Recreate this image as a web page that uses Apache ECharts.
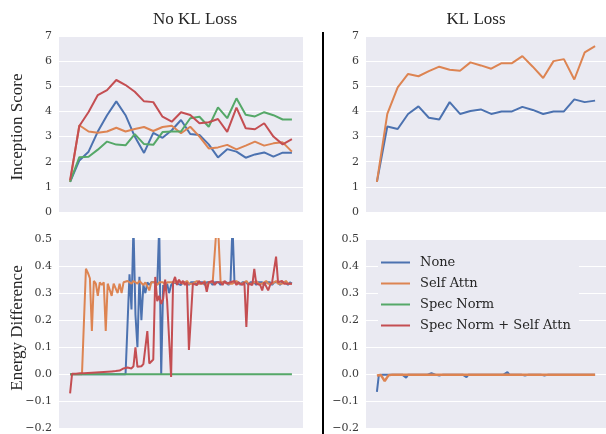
<!DOCTYPE html>
<html><head><meta charset="utf-8">
<script src="https://cdn.jsdelivr.net/npm/echarts@6/dist/echarts.min.js"></script>
<style>html,body{margin:0;padding:0;background:#fff}#c{width:606px;height:434px}</style>
</head><body><div id="c"></div>
<script>
const seriesNames = ['None', 'Self Attn', 'Spec Norm', 'Spec Norm + Self Attn'];
const colors = ['#4C72B0', '#DD8452', '#55A868', '#C44E52'];
const panelTitles = ['No KL Loss', 'KL Loss'];
const yTitles = ['Inception Score', 'Energy Difference'];
const isTicks = [0, 1, 2, 3, 4, 5, 6, 7];
const edTicks = [-0.2, -0.1, 0.0, 0.1, 0.2, 0.3, 0.4, 0.5];

// Inception score, no KL loss (25 checkpoints)
const isNoKL_None = [1.2, 2.05, 2.4, 3.2, 3.85, 4.4, 3.85, 3.0, 2.35, 3.15, 2.95, 3.25, 3.66, 3.1, 3.06, 2.69, 2.17, 2.5, 2.4, 2.16, 2.29, 2.37, 2.2, 2.36, 2.36];
const isNoKL_Self = [1.2, 3.45, 3.2, 3.15, 3.2, 3.35, 3.2, 3.3, 3.38, 3.22, 3.38, 3.43, 3.13, 3.39, 3.0, 2.53, 2.57, 2.67, 2.49, 2.64, 2.8, 2.64, 2.73, 2.77, 2.4];
const isNoKL_Spec = [1.2, 2.18, 2.2, 2.48, 2.8, 2.68, 2.65, 3.1, 2.7, 2.67, 3.18, 3.2, 3.2, 3.73, 3.79, 3.39, 4.16, 3.73, 4.52, 3.87, 3.8, 3.97, 3.85, 3.68, 3.68];
const isNoKL_Both = [1.27, 3.42, 3.98, 4.65, 4.85, 5.25, 5.05, 4.78, 4.4, 4.37, 3.79, 3.59, 3.97, 3.86, 3.53, 3.57, 3.7, 3.19, 4.15, 3.33, 3.29, 3.53, 3.0, 2.69, 2.9];

// Inception score, KL loss (22 checkpoints)
const isKL_None = [1.2, 3.4, 3.3, 3.9, 4.2, 3.75, 3.68, 4.37, 3.9, 4.02, 4.08, 3.9, 4.0, 4.0, 4.18, 4.06, 3.9, 4.0, 4.0, 4.48, 4.37, 4.43];
const isKL_Self = [1.2, 3.9, 4.96, 5.49, 5.4, 5.6, 5.78, 5.66, 5.62, 5.95, 5.83, 5.7, 5.92, 5.92, 6.2, 5.78, 5.33, 6.0, 6.08, 5.27, 6.35, 6.6];

// Energy difference, no KL loss (113 steps)
const edNoKL_None = [
  0,0,0,0,0,0,0,0,0,0,
  0,0,0,0,0,0,0,0,0,0,
  0,0,0,0,0,0,0,0,0,0,
  0.370,0.240,0.550,0.220,0.100,0.360,0.200,0.330,0.300,0.340,
  0.330,0.340,0.335,0.340,0.330,0.550,0.000,0.330,0.310,0.335,
  0.300,0.330,0.340,0.340,0.335,0.340,0.330,0.340,0.335,0.340,
  0.330,0.340,0.335,0.340,0.330,0.340,0.335,0.340,0.330,0.340,
  0.335,0.340,0.330,0.340,0.335,0.340,0.330,0.340,0.335,0.340,
  0.330,0.340,0.550,0.340,0.335,0.340,0.330,0.340,0.335,0.340,
  0.330,0.340,0.335,0.340,0.330,0.340,0.335,0.340,0.330,0.340,
  0.335,0.340,0.330,0.340,0.335,0.340,0.330,0.340,0.335,0.340,
  0.330,0.340,0.335];
const edNoKL_Self = [
  0,0,0,0,0,0,0,0.005,0.390,0.375,
  0.355,0.160,0.345,0.335,0.290,0.340,0.330,0.340,0.160,0.335,
  0.340,0.290,0.335,0.340,0.300,0.335,0.300,0.340,0.335,0.345,
  0.340,0.335,0.345,0.340,0.335,0.345,0.340,0.330,0.340,0.345,
  0.310,0.340,0.335,0.340,0.330,0.340,0.335,0.340,0.330,0.340,
  0.335,0.340,0.345,0.340,0.335,0.345,0.340,0.335,0.340,0.345,
  0.335,0.340,0.335,0.340,0.345,0.335,0.340,0.335,0.345,0.320,
  0.340,0.335,0.340,0.340,0.550,0.500,0.340,0.335,0.340,0.345,
  0.335,0.340,0.335,0.340,0.345,0.335,0.340,0.335,0.340,0.345,
  0.335,0.340,0.335,0.340,0.345,0.335,0.340,0.335,0.340,0.345,
  0.335,0.340,0.335,0.340,0.345,0.335,0.340,0.335,0.340,0.345,
  0.335,0.340,0.335];
const edNoKL_Spec = [
  0,0,0,0,0,0,0,0,0,0,
  0,0,0,0,0,0,0,0,0,0,
  0,0,0,0,0,0,0,0,0,0,
  0,0,0,0,0,0,0,0,0,0,
  0,0,0,0,0,0,0,0,0,0,
  0,0,0,0,0,0,0,0,0,0,
  0,0,0,0,0,0,0,0,0,0,
  0,0,0,0,0,0,0,0,0,0,
  0,0,0,0,0,0,0,0,0,0,
  0,0,0,0,0,0,0,0,0,0,
  0,0,0,0,0,0,0,0,0,0,
  0,0,0];
const edNoKL_Both = [
  -0.070,0.002,0.003,0.002,0.004,0.004,0.005,0.004,0.006,0.005,
  0.007,0.006,0.008,0.007,0.009,0.008,0.010,0.009,0.011,0.010,
  0.012,0.011,0.013,0.012,0.015,0.014,0.018,0.022,0.020,0.025,
  0.028,0.022,0.030,0.100,0.028,0.035,0.030,0.038,0.034,0.160,
  0.040,0.045,0.055,0.360,0.270,0.290,0.260,0.280,0.350,0.270,
  0.265,-0.010,0.340,0.360,0.330,0.350,0.335,0.345,0.330,0.340,
  0.090,0.210,0.335,0.340,0.330,0.345,0.335,0.330,0.340,0.305,
  0.340,0.335,0.345,0.330,0.340,0.335,0.340,0.330,0.345,0.335,
  0.330,0.340,0.335,0.345,0.330,0.340,0.335,0.330,0.340,0.175,
  0.335,0.340,0.330,0.390,0.335,0.340,0.330,0.310,0.340,0.335,
  0.310,0.330,0.340,0.335,0.435,0.340,0.335,0.345,0.335,0.340,
  0.335,0.330,0.335];

// Energy difference, KL loss (113 steps)
const edKL_None = [
  -0.065,-0.002,-0.001,-0.001,-0.001,-0.001,-0.001,-0.001,-0.001,-0.001,
  -0.001,-0.001,-0.001,-0.001,-0.001,-0.012,-0.001,-0.001,-0.001,-0.001,
  -0.001,-0.001,-0.001,-0.001,-0.001,-0.001,-0.001,-0.001,0.004,-0.001,
  -0.001,-0.001,-0.004,-0.001,-0.001,-0.001,-0.001,-0.001,-0.001,-0.001,
  -0.001,-0.001,-0.001,-0.001,-0.001,-0.001,-0.010,-0.001,-0.001,-0.001,
  -0.001,-0.001,-0.001,-0.001,-0.001,-0.001,-0.001,-0.001,-0.004,-0.001,
  -0.001,-0.001,-0.001,-0.001,-0.001,-0.001,-0.001,0.008,-0.001,-0.001,
  -0.001,-0.001,-0.001,-0.001,-0.001,-0.001,-0.004,-0.001,-0.001,-0.001,
  -0.001,-0.001,-0.001,-0.001,-0.001,-0.001,-0.004,-0.001,-0.001,-0.001,
  -0.001,-0.001,-0.001,-0.001,-0.001,-0.001,-0.001,-0.001,-0.001,-0.001,
  -0.001,-0.001,-0.001,-0.001,-0.001,-0.001,-0.001,-0.001,-0.001,-0.001,
  -0.001,-0.001,-0.001];
const edKL_Self = [
  -0.004,-0.002,-0.002,-0.002,-0.025,-0.028,-0.003,-0.002,-0.001,-0.002,
  -0.001,-0.002,-0.001,-0.002,-0.001,-0.002,-0.001,-0.002,-0.001,-0.002,
  -0.001,-0.002,-0.001,-0.002,-0.001,-0.002,-0.001,-0.002,-0.001,-0.002,
  -0.001,-0.002,-0.001,-0.002,-0.001,-0.002,-0.001,-0.002,-0.001,-0.002,
  -0.001,-0.002,-0.001,-0.002,-0.001,-0.002,-0.001,-0.002,-0.001,-0.002,
  -0.001,-0.002,-0.001,-0.002,-0.001,-0.002,-0.001,-0.002,-0.001,-0.002,
  -0.001,-0.002,-0.001,-0.002,-0.001,-0.002,-0.001,-0.002,-0.001,-0.002,
  -0.001,-0.002,-0.001,-0.002,-0.001,-0.002,-0.001,-0.002,-0.001,-0.002,
  -0.001,-0.002,-0.001,-0.002,-0.001,-0.002,-0.001,-0.002,-0.001,-0.002,
  -0.001,-0.002,-0.001,-0.002,-0.001,-0.002,-0.001,-0.002,-0.001,-0.002,
  -0.001,-0.002,-0.001,-0.002,-0.001,-0.002,-0.001,-0.002,-0.001,-0.002,
  -0.001,-0.002,-0.001];

const BG = '#EAEAF2';
const TXT = '#262626';
const tickFont = '"DejaVu Serif", serif';
const labelFont = '"Liberation Serif", "Times New Roman", serif';

function pairs(arr) { return arr.map((v, i) => [i, v]); }
function fmtED(v) {
  if (Math.abs(v) < 1e-9) return '0.0';
  return v.toFixed(1).replace('-', '\u2212');
}
function xAxisFor(grid, n) {
  const pad = (n - 1) * 0.05;
  return { type: 'value', gridIndex: grid, min: -pad, max: n - 1 + pad, show: false };
}
function yAxisFor(grid, ticks, fmt) {
  return {
    type: 'value', gridIndex: grid,
    min: ticks[0], max: ticks[ticks.length - 1],
    interval: Math.round((ticks[1] - ticks[0]) * 1000) / 1000,
    axisLine: { show: false }, axisTick: { show: false },
    axisLabel: { fontFamily: tickFont, fontSize: 11, color: '#3a3a3a', margin: 7, formatter: fmt },
    splitLine: { show: true, lineStyle: { color: '#ffffff', width: 1 } }
  };
}
function line(name, k, grid, arr, width) {
  return {
    type: 'line', name: name, xAxisIndex: grid, yAxisIndex: grid,
    data: pairs(arr), showSymbol: false, symbol: 'none',
    itemStyle: { color: colors[k] },
    lineStyle: { color: colors[k], width: width },
    clip: true, animation: false
  };
}

const grids = [
  { left: 59, top: 36, width: 244, height: 176 },
  { left: 366, top: 36, width: 245, height: 176 },
  { left: 59, top: 239, width: 244, height: 190 },
  { left: 366, top: 239, width: 245, height: 190 }
].map(g => Object.assign({ show: true, backgroundColor: BG, borderWidth: 0, containLabel: false }, g));

const option = {
  backgroundColor: '#ffffff',
  animation: false,
  grid: grids,
  xAxis: [xAxisFor(0, isNoKL_None.length), xAxisFor(1, isKL_None.length), xAxisFor(2, edNoKL_None.length), xAxisFor(3, edKL_None.length)],
  yAxis: [
    yAxisFor(0, isTicks, v => String(v)),
    yAxisFor(1, isTicks, v => String(v)),
    yAxisFor(2, edTicks, fmtED),
    yAxisFor(3, edTicks, fmtED)
  ],
  legend: {
    data: seriesNames, orient: 'vertical', left: 378, top: 249,
    backgroundColor: BG, padding: [6, 8, 6, 3], itemGap: 6,
    icon: 'rect', itemWidth: 29, itemHeight: 2, selectedMode: false,
    textStyle: { fontFamily: tickFont, fontSize: 13, color: TXT, lineHeight: 15, padding: [0, 0, 0, 5] }
  },
  series: [
    line(seriesNames[0], 0, 0, isNoKL_None, 2),
    line(seriesNames[1], 1, 0, isNoKL_Self, 2),
    line(seriesNames[2], 2, 0, isNoKL_Spec, 2),
    line(seriesNames[3], 3, 0, isNoKL_Both, 2),
    line(seriesNames[0], 0, 1, isKL_None, 2),
    line(seriesNames[1], 1, 1, isKL_Self, 2),
    line(seriesNames[0], 0, 2, edNoKL_None, 2),
    line(seriesNames[1], 1, 2, edNoKL_Self, 2),
    line(seriesNames[2], 2, 2, edNoKL_Spec, 2),
    line(seriesNames[3], 3, 2, edNoKL_Both, 2),
    line(seriesNames[0], 0, 3, edKL_None, 2),
    line(seriesNames[1], 1, 3, edKL_Self, 2.5)
  ],
  graphic: [
    { type: 'text', x: 195, y: 20, style: { text: panelTitles[0], font: '17px ' + labelFont, fill: TXT, textAlign: 'center', textVerticalAlign: 'middle' } },
    { type: 'text', x: 476, y: 20, style: { text: panelTitles[1], font: '17px ' + labelFont, fill: TXT, textAlign: 'center', textVerticalAlign: 'middle' } },
    { type: 'text', x: 18, y: 127, rotation: Math.PI / 2, style: { text: yTitles[0], font: '17px ' + labelFont, fill: TXT, textAlign: 'center', textVerticalAlign: 'middle' } },
    { type: 'text', x: 18, y: 328, rotation: Math.PI / 2, style: { text: yTitles[1], font: '17px ' + labelFont, fill: TXT, textAlign: 'center', textVerticalAlign: 'middle' } },
    { type: 'line', shape: { x1: 323, y1: 32, x2: 323, y2: 434 }, style: { stroke: '#000000', lineWidth: 2 } }
  ]
};

const chart = echarts.init(document.getElementById('c'), null, { renderer: 'canvas', width: 606, height: 434 });
chart.setOption(option);
</script>
</body></html>
